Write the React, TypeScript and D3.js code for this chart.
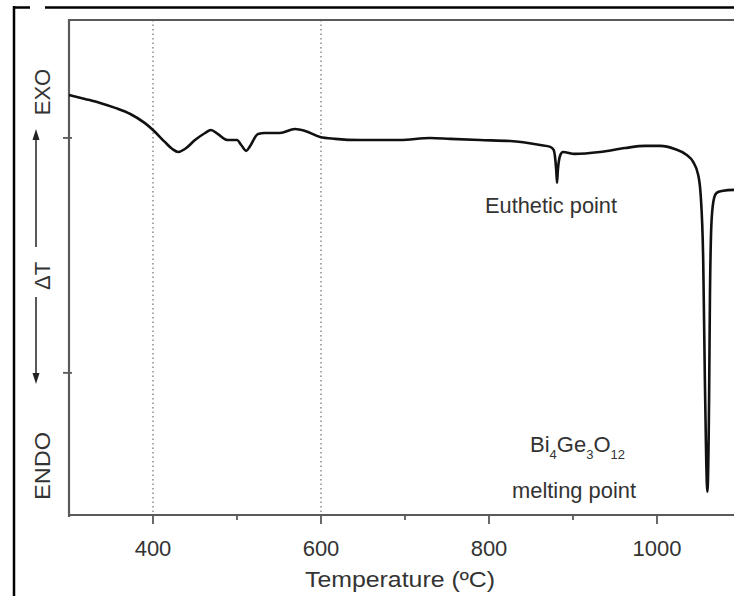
import React from "react";
import * as d3 from "d3";

// DTA trace: temperature (ºC) and ΔT signal (arbitrary units, EXO up)
const temperature = [
  300, 319, 337, 355, 373, 390, 400, 414, 423, 430, 438, 450, 462, 469, 477,
  489, 500, 505, 511, 515, 525, 533, 551, 569, 581, 599, 617, 646, 694, 730,
  754, 789, 825, 861, 873, 877, 880, 881, 882, 885, 888, 902, 932, 962, 986,
  1004, 1021, 1035, 1043, 1049, 1052, 1055, 1057, 1060, 1062, 1063, 1065,
  1068, 1071, 1077, 1092, 1105,
];
const deltaT = [
  1.83, 1.66, 1.49, 1.28, 1.02, 0.64, 0.34, -0.17, -0.47, -0.6, -0.47, -0.09,
  0.21, 0.34, 0.17, -0.09, -0.09, -0.3, -0.55, -0.38, 0.17, 0.21, 0.21, 0.38,
  0.3, 0.04, -0.04, -0.09, -0.09, 0.0, -0.04, -0.09, -0.13, -0.3, -0.38,
  -0.51, -1.36, -1.91, -1.36, -0.72, -0.6, -0.68, -0.6, -0.43, -0.34, -0.34,
  -0.47, -0.72, -1.02, -1.57, -2.43, -5.19, -10.3, -15.06, -11.15, -6.89,
  -3.49, -2.55, -2.34, -2.26, -2.21, -2.21,
];
const majorTicks = [400, 600, 800, 1000];
const minorTicks = [500, 700, 900];
const yTicks = [0, -10];
const guideLines = [400, 600];

const W = 734;
const H = 596;
const left = 69;
const top = 20;
const bottom = 515;

export default function App() {
  const x = d3.scaleLinear().domain([300, 1100]).range([left, left + 800 * 0.84]);
  const y = d3.scaleLinear().domain([-16.05, 5.02]).range([bottom, top]);
  const pts: [number, number][] = temperature.map((t, i) => [t, deltaT[i]]);
  const line = d3
    .line<[number, number]>()
    .x((d) => x(d[0]))
    .y((d) => y(d[1]))
    .curve(d3.curveMonotoneX);

  const font = "'Liberation Sans', Arial, Helvetica, sans-serif";
  const axisColor = "#5a5a5a";
  const textColor = "#333";
  const right = W + 10;

  return (
    <svg
      width={W}
      height={H}
      viewBox={`0 0 ${W} ${H}`}
      style={{ position: "fixed", left: 0, top: 0, background: "#fff" }}
      fontFamily={font}
    >
      <rect x={0} y={0} width={W} height={H} fill="#fff" />
      {/* outer frame */}
      <line x1={13} y1={7.5} x2={30} y2={7.5} stroke="#000" strokeWidth={2.5} />
      <line x1={45} y1={7.5} x2={W} y2={7.5} stroke="#000" strokeWidth={2.5} />
      <line x1={14} y1={6} x2={14} y2={H} stroke="#000" strokeWidth={2.5} />

      {/* dotted guides */}
      {guideLines.map((t) => (
        <line
          key={t}
          x1={x(t)}
          x2={x(t)}
          y1={top}
          y2={bottom}
          stroke="#777"
          strokeWidth={1.3}
          strokeDasharray="1.5 3"
        />
      ))}

      {/* plot frame */}
      <line x1={left} y1={top} x2={right} y2={top} stroke={axisColor} strokeWidth={2.2} />
      <line x1={left} y1={top - 1} x2={left} y2={bottom + 2} stroke={axisColor} strokeWidth={2.2} />
      <line x1={left - 1} y1={bottom} x2={right} y2={bottom} stroke={axisColor} strokeWidth={2.2} />

      {yTicks.map((v) => (
        <line key={v} x1={left - 6} x2={left + 3} y1={y(v)} y2={y(v)} stroke={axisColor} strokeWidth={1.8} />
      ))}
      {majorTicks.map((t) => (
        <g key={t}>
          <line x1={x(t)} x2={x(t)} y1={bottom} y2={bottom + 9} stroke={axisColor} strokeWidth={1.8} />
          <text x={x(t)} y={bottom + 41} textAnchor="middle" fontSize={22} fill={textColor}>
            {t}
          </text>
        </g>
      ))}
      {minorTicks.map((t) => (
        <line key={t} x1={x(t)} x2={x(t)} y1={bottom} y2={bottom + 5} stroke={axisColor} strokeWidth={1.8} />
      ))}

      <text
        x={400}
        y={587}
        textAnchor="middle"
        fontSize={22}
        fill={textColor}
        textLength={190}
        lengthAdjust="spacingAndGlyphs"
      >
        Temperature (ºC)
      </text>

      {/* y-axis legend: EXO ↑ ΔT ↓ ENDO */}
      <g fill={textColor} fontSize={22}>
        <text transform="translate(42,92) rotate(-90)" textAnchor="middle" dy="0.36em">
          EXO
        </text>
        <text transform="translate(42,276) rotate(-90)" textAnchor="middle" dy="0.36em">
          ΔT
        </text>
        <text
          transform="translate(42,466) rotate(-90)"
          textAnchor="middle"
          dy="0.36em"
          textLength={68}
          lengthAdjust="spacingAndGlyphs"
        >
          ENDO
        </text>
      </g>
      <line x1={36} x2={36} y1={247} y2={138} stroke="#222" strokeWidth={1.5} />
      <path d="M36,129 L32.5,140 L39.5,140 Z" fill="#222" />
      <line x1={36} x2={36} y1={297} y2={375} stroke="#222" strokeWidth={1.5} />
      <path d="M36,384 L32.5,373 L39.5,373 Z" fill="#222" />

      {/* DTA curve */}
      <path d={line(pts) ?? ""} fill="none" stroke="#111" strokeWidth={2.6} strokeLinejoin="round" />

      {/* annotations */}
      <g fill={textColor} fontSize={22}>
        <text x={551} y={213} textAnchor="middle" textLength={132} lengthAdjust="spacingAndGlyphs">
          Euthetic point
        </text>
        <text x={530} y={452}>
          Bi<tspan fontSize={13} dy={7}>4</tspan>
          <tspan dy={-7}>Ge</tspan>
          <tspan fontSize={13} dy={7}>3</tspan>
          <tspan dy={-7}>O</tspan>
          <tspan fontSize={13} dy={7}>12</tspan>
        </text>
        <text x={574} y={498} textAnchor="middle" textLength={124} lengthAdjust="spacingAndGlyphs">
          melting point
        </text>
      </g>
    </svg>
  );
}
